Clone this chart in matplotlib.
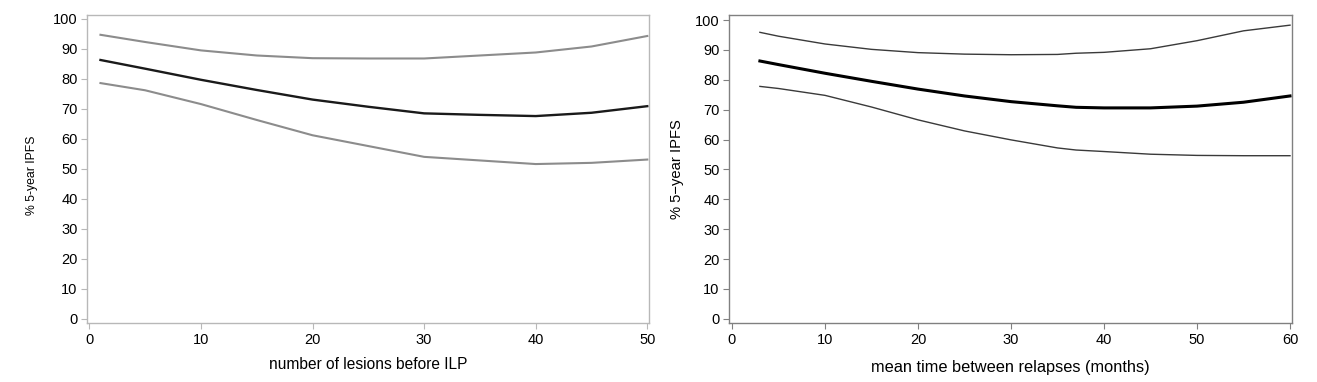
"""Curvas de IPFS a 5 anos con bandas de confianza (dos paneles)."""

import matplotlib
matplotlib.use("Agg")
import matplotlib.pyplot as plt

plt.rcParams["font.family"] = ["Liberation Sans", "DejaVu Sans"]

# panel izquierdo: numero de lesiones antes de ILP
lesions = [1, 5, 10, 15, 20, 25, 30, 35, 40, 45, 50]
les_upper = [94.7, 92.3, 89.5, 87.8, 86.9, 86.8, 86.8, 87.8, 88.8, 90.8, 94.3]
les_mid = [86.3, 83.4, 79.7, 76.3, 73.1, 70.7, 68.5, 68.0, 67.6, 68.7, 70.9]
les_lower = [78.6, 76.2, 71.6, 66.3, 61.2, 57.6, 54.0, 52.8, 51.6, 52.0, 53.1]

# panel derecho: tiempo medio entre recaidas (meses)
months = [3, 5, 10, 15, 20, 25, 30, 35, 37, 40, 45, 50, 55, 60]
mon_upper = [95.9, 94.6, 92.0, 90.2, 89.1, 88.6, 88.4, 88.5, 88.9, 89.2, 90.4, 93.1, 96.4, 98.3]
mon_mid = [86.3, 85.1, 82.2, 79.5, 76.9, 74.6, 72.7, 71.3, 70.8, 70.6, 70.6, 71.2, 72.5, 74.6]
mon_lower = [77.8, 77.1, 74.8, 70.9, 66.6, 62.9, 59.9, 57.2, 56.5, 56.0, 55.1, 54.7, 54.6, 54.6]

W, H = 1317, 382
fig = plt.figure(figsize=(W / 100, H / 100), dpi=100)

ax1 = fig.add_axes([87.3 / W, 58.7 / H, 561.7 / W, 308.6 / H])
ax2 = fig.add_axes([729.3 / W, 58.7 / H, 562.4 / W, 308.6 / H])

ax1.plot(lesions, les_upper, color="#8c8c8c", lw=1.5)
ax1.plot(lesions, les_lower, color="#8c8c8c", lw=1.5)
ax1.plot(lesions, les_mid, color="#1a1a1a", lw=1.7)
ax1.set_xlim(-0.18, 50.15)
ax1.set_ylim(-1.5, 101.4)
ax1.set_xticks(range(0, 51, 10))
ax1.set_xlabel("number of lesions before ILP", fontsize=11.2)
ax1.set_ylabel("% 5-year IPFS", fontsize=8.8)
ax1.xaxis.set_label_coords(0.5, -0.132)
ax1.yaxis.set_label_coords(-0.098, 0.48)

ax2.plot(months, mon_upper, color="#3a3a3a", lw=1.0)
ax2.plot(months, mon_lower, color="#3a3a3a", lw=1.0)
ax2.plot(months, mon_mid, color="#000000", lw=2.2)
ax2.set_xlim(-0.29, 60.18)
ax2.set_ylim(-1.5, 101.8)
ax2.set_xticks(range(0, 61, 10))
ax2.set_xlabel("mean time between relapses (months)", fontsize=11.8)
ax2.set_ylabel("% 5\u2212year IPFS", fontsize=10.6)
ax2.xaxis.set_label_coords(0.5, -0.142)
ax2.yaxis.set_label_coords(-0.093, 0.498)

for ax, sc in ((ax1, "#b8b8b8"), (ax2, "#808080")):
    ax.set_yticks(range(0, 101, 10))
    ax.xaxis.label.set_verticalalignment("center")
    ax.yaxis.label.set_verticalalignment("center")
    for s in ax.spines.values():
        s.set_color(sc)
        s.set_linewidth(1.0)
    ax.tick_params(direction="out", length=4, width=0.8, color=sc,
                   labelsize=10.5, pad=3)

fig.savefig("out.png", dpi=100)
